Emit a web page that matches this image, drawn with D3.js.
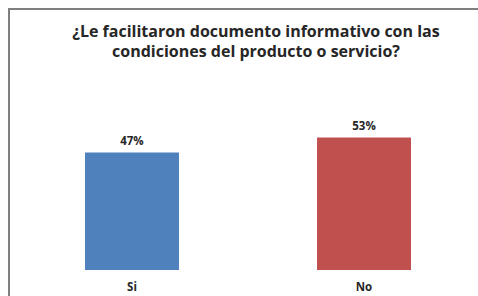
<!DOCTYPE html>
<html lang="es">
<head>
<meta charset="UTF-8">
<title>Documento informativo</title>
<script src="https://d3js.org/d3.v7.min.js"></script>
<style>
    body { margin: 0; background: #fff; }
    svg text { font-family: "Open Sans", "Noto Sans", sans-serif; font-weight: bold; fill: #262626; }
</style>
</head>
<body>
<div id="chart"></div>
<script>
// chart data
const categories = ["Si", "No"];
const values = [47, 53];
const barColors = ["#4f81bd", "#c0504d"];
const titleLines = ["¿Le facilitaron documento informativo con las", "condiciones del producto o servicio?"];

const width = 478, height = 296;
const svg = d3.select("#chart").append("svg")
    .attr("width", width)
    .attr("height", height);

// frame (only top and left edges visible)
svg.append("path")
    .attr("d", `M9,${height} L9,9 L${width},9`)
    .attr("fill", "none")
    .attr("stroke", "#7f7f7f")
    .attr("stroke-width", 2);

// title
svg.append("g").selectAll("text")
    .data(titleLines)
    .enter().append("text")
    .attr("x", 256)
    .attr("y", (d, i) => 37 + i * 20)
    .attr("text-anchor", "middle")
    .style("font-size", "16px")
    .text(d => d);

const x = d3.scaleBand()
    .domain(categories)
    .range([-31, 527])
    .paddingInner(0.595)
    .paddingOuter(0.5);

const y = d3.scaleLinear()
    .domain([0, 60])
    .range([270, 120]);

const data = categories.map((c, i) => ({ cat: c, value: values[i], color: barColors[i] }));

svg.selectAll("rect.bar")
    .data(data)
    .enter().append("rect")
    .attr("class", "bar")
    .attr("x", d => x(d.cat))
    .attr("y", d => y(d.value))
    .attr("width", x.bandwidth())
    .attr("height", d => y(0) - y(d.value))
    .attr("fill", d => d.color);

svg.selectAll("text.val")
    .data(data)
    .enter().append("text")
    .attr("class", "val")
    .attr("x", d => x(d.cat) + x.bandwidth() / 2)
    .attr("y", d => y(d.value) - 8)
    .attr("text-anchor", "middle")
    .style("font-size", "11.5px")
    .text(d => d.value + "%");

svg.selectAll("text.cat")
    .data(data)
    .enter().append("text")
    .attr("class", "cat")
    .attr("x", d => x(d.cat) + x.bandwidth() / 2)
    .attr("y", 291)
    .attr("text-anchor", "middle")
    .style("font-size", "11.5px")
    .text(d => d.cat);
</script>
</body>
</html>
